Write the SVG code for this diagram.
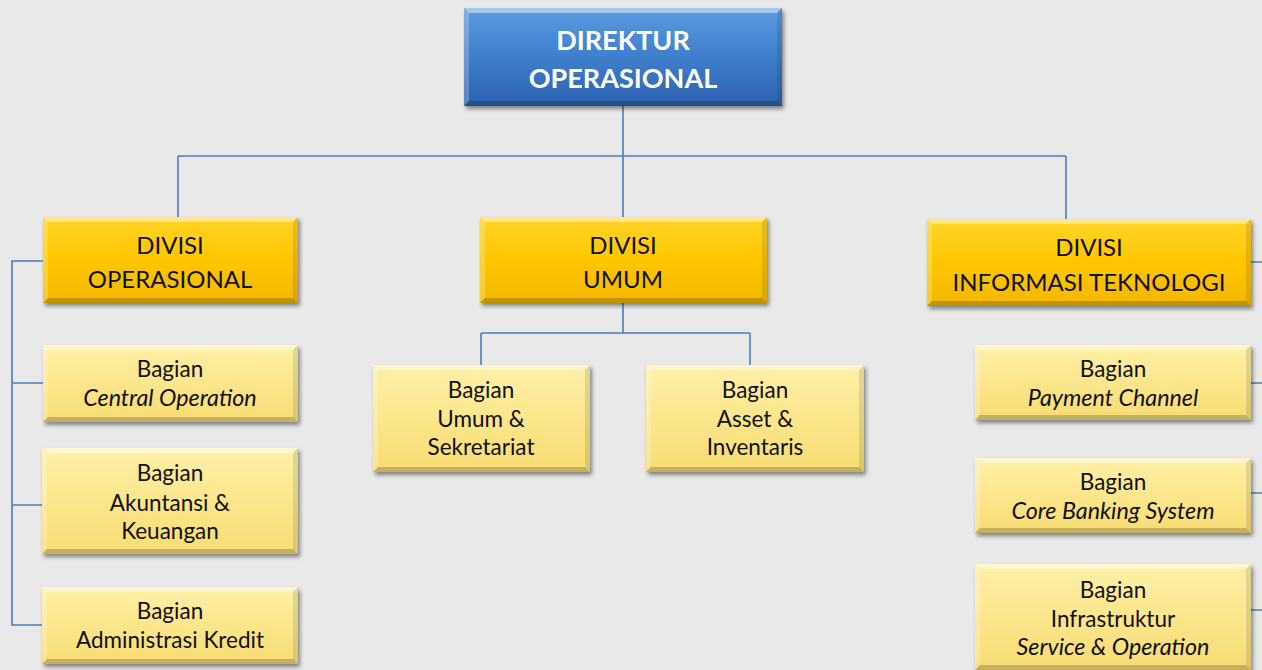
<svg xmlns="http://www.w3.org/2000/svg" width="1262" height="670" viewBox="0 0 1262 670">
<style>
.t{font-family:Lato,"Open Sans","Liberation Sans",sans-serif;text-anchor:middle;fill:#111}
.dir{font-size:27px;font-weight:bold;fill:#fff}
.div{font-size:24px}
.sub{font-size:22.5px}
.i{font-style:italic;font-size:23.3px}
.conn{fill:none;stroke:#4a7ebb;stroke-width:1.6}
.hl{fill:#fff;fill-opacity:.45}
.hl2{fill:#fff;fill-opacity:.22}
.sh{fill:#000;fill-opacity:.10}
.sh2{fill:#000;fill-opacity:.2}
</style>
<defs>
<linearGradient id="gBlue" x1="0" y1="0" x2="0" y2="1">
<stop offset="0" stop-color="#5b9be0"/>
<stop offset="0.5" stop-color="#3f7fcc"/>
<stop offset="1" stop-color="#2b62ae"/>
</linearGradient>
<linearGradient id="gGold" x1="0" y1="0" x2="0" y2="1">
<stop offset="0" stop-color="#ffd42a"/>
<stop offset="0.5" stop-color="#ffc600"/>
<stop offset="1" stop-color="#f2b800"/>
</linearGradient>
<linearGradient id="gLight" x1="0" y1="0" x2="0" y2="1">
<stop offset="0" stop-color="#fdf0a8"/>
<stop offset="0.5" stop-color="#fbe68c"/>
<stop offset="1" stop-color="#f7dc72"/>
</linearGradient>
<filter id="shadow" x="-10%" y="-10%" width="125%" height="130%">
<feGaussianBlur in="SourceAlpha" stdDeviation="2"/>
<feOffset dx="2" dy="3" result="b"/>
<feComponentTransfer><feFuncA type="linear" slope="0.45"/></feComponentTransfer>
<feMerge><feMergeNode/><feMergeNode in="SourceGraphic"/></feMerge>
</filter>
</defs>
<rect x="0" y="0" width="1262" height="670" fill="#e9e9e9"/>

<g id="connectors">
<path class="conn" d="M623 106 V156 M178 156 H1066 M178 156 V217 M623 156 V217 M1066 156 V219"/>
<path class="conn" d="M623 303 V333 M481 333 H750 M481 333 V365 M750 333 V365"/>
<path class="conn" d="M43 261 H12 V625 H42 M12 383 H43 M12 505 H42"/>
<path class="conn" d="M1251 262 H1262 M1251 383 H1262 M1251 493 H1262 M1251 610 H1262"/>
</g>

<g id="direktur" transform="translate(464,8)">
<rect width="318" height="98" fill="url(#gBlue)" filter="url(#shadow)"/>
<path class="hl" d="M0 0 h318 l-5 5 H5 z"/><path class="hl2" d="M0 0 l5 5 V93 l-5 5 z"/><path class="sh" d="M318 0 v98 l-5 -5 V5 z"/><path class="sh2" d="M0 98 h318 l-5 -5 H5 z"/>
<text class="t dir" x="159" y="42">DIREKTUR</text>
<text class="t dir" x="159" y="80">OPERASIONAL</text>
</g>

<g id="divisi-operasional" transform="translate(43,217)">
<rect width="255" height="86" fill="url(#gGold)" filter="url(#shadow)"/>
<path class="hl" d="M0 0 h255 l-5 5 H5 z"/><path class="hl2" d="M0 0 l5 5 V81 l-5 5 z"/><path class="sh" d="M255 0 v86 l-5 -5 V5 z"/><path class="sh2" d="M0 86 h255 l-5 -5 H5 z"/>
<text class="t div" x="127" y="37">DIVISI</text>
<text class="t div" x="127" y="71">OPERASIONAL</text>
</g>

<g id="divisi-umum" transform="translate(480,217)">
<rect width="287" height="86" fill="url(#gGold)" filter="url(#shadow)"/>
<path class="hl" d="M0 0 h287 l-5 5 H5 z"/><path class="hl2" d="M0 0 l5 5 V81 l-5 5 z"/><path class="sh" d="M287 0 v86 l-5 -5 V5 z"/><path class="sh2" d="M0 86 h287 l-5 -5 H5 z"/>
<text class="t div" x="143" y="37">DIVISI</text>
<text class="t div" x="143" y="71">UMUM</text>
</g>

<g id="divisi-it" transform="translate(927,219)">
<rect width="324" height="87" fill="url(#gGold)" filter="url(#shadow)"/>
<path class="hl" d="M0 0 h324 l-5 5 H5 z"/><path class="hl2" d="M0 0 l5 5 V82 l-5 5 z"/><path class="sh" d="M324 0 v87 l-5 -5 V5 z"/><path class="sh2" d="M0 87 h324 l-5 -5 H5 z"/>
<text class="t div" x="162" y="37">DIVISI</text>
<text class="t div" x="162" y="72">INFORMASI TEKNOLOGI</text>
</g>

<g id="central-operation" transform="translate(43,345)">
<rect width="255" height="77" fill="url(#gLight)" filter="url(#shadow)"/>
<path class="hl" d="M0 0 h255 l-5 5 H5 z"/><path class="hl2" d="M0 0 l5 5 V72 l-5 5 z"/><path class="sh" d="M255 0 v77 l-5 -5 V5 z"/><path class="sh2" d="M0 77 h255 l-5 -5 H5 z"/>
<text class="t sub" x="127" y="32">Bagian</text>
<text class="t sub i" x="127" y="61">Central Operation</text>
</g>

<g id="akuntansi-keuangan" transform="translate(42,448)">
<rect width="256" height="106" fill="url(#gLight)" filter="url(#shadow)"/>
<path class="hl" d="M0 0 h256 l-5 5 H5 z"/><path class="hl2" d="M0 0 l5 5 V101 l-5 5 z"/><path class="sh" d="M256 0 v106 l-5 -5 V5 z"/><path class="sh2" d="M0 106 h256 l-5 -5 H5 z"/>
<text class="t sub" x="128" y="33">Bagian</text>
<text class="t sub" x="128" y="63">Akuntansi &amp;</text>
<text class="t sub" x="128" y="91">Keuangan</text>
</g>

<g id="administrasi-kredit" transform="translate(42,587)">
<rect width="256" height="77" fill="url(#gLight)" filter="url(#shadow)"/>
<path class="hl" d="M0 0 h256 l-5 5 H5 z"/><path class="hl2" d="M0 0 l5 5 V72 l-5 5 z"/><path class="sh" d="M256 0 v77 l-5 -5 V5 z"/><path class="sh2" d="M0 77 h256 l-5 -5 H5 z"/>
<text class="t sub" x="128" y="32">Bagian</text>
<text class="t sub" x="128" y="61">Administrasi Kredit</text>
</g>

<g id="umum-sekretariat" transform="translate(373,365)">
<rect width="217" height="107" fill="url(#gLight)" filter="url(#shadow)"/>
<path class="hl" d="M0 0 h217 l-5 5 H5 z"/><path class="hl2" d="M0 0 l5 5 V102 l-5 5 z"/><path class="sh" d="M217 0 v107 l-5 -5 V5 z"/><path class="sh2" d="M0 107 h217 l-5 -5 H5 z"/>
<text class="t sub" x="108" y="33">Bagian</text>
<text class="t sub" x="108" y="62">Umum &amp;</text>
<text class="t sub" x="108" y="90">Sekretariat</text>
</g>

<g id="asset-inventaris" transform="translate(646,365)">
<rect width="218" height="107" fill="url(#gLight)" filter="url(#shadow)"/>
<path class="hl" d="M0 0 h218 l-5 5 H5 z"/><path class="hl2" d="M0 0 l5 5 V102 l-5 5 z"/><path class="sh" d="M218 0 v107 l-5 -5 V5 z"/><path class="sh2" d="M0 107 h218 l-5 -5 H5 z"/>
<text class="t sub" x="109" y="33">Bagian</text>
<text class="t sub" x="109" y="62">Asset &amp;</text>
<text class="t sub" x="109" y="90">Inventaris</text>
</g>

<g id="payment-channel" transform="translate(975,345)">
<rect width="276" height="75" fill="url(#gLight)" filter="url(#shadow)"/>
<path class="hl" d="M0 0 h276 l-5 5 H5 z"/><path class="hl2" d="M0 0 l5 5 V70 l-5 5 z"/><path class="sh" d="M276 0 v75 l-5 -5 V5 z"/><path class="sh2" d="M0 75 h276 l-5 -5 H5 z"/>
<text class="t sub" x="138" y="32">Bagian</text>
<text class="t sub i" x="138" y="61">Payment Channel</text>
</g>

<g id="core-banking" transform="translate(975,458)">
<rect width="276" height="75" fill="url(#gLight)" filter="url(#shadow)"/>
<path class="hl" d="M0 0 h276 l-5 5 H5 z"/><path class="hl2" d="M0 0 l5 5 V70 l-5 5 z"/><path class="sh" d="M276 0 v75 l-5 -5 V5 z"/><path class="sh2" d="M0 75 h276 l-5 -5 H5 z"/>
<text class="t sub" x="138" y="32">Bagian</text>
<text class="t sub i" x="138" y="61">Core Banking System</text>
</g>

<g id="infrastruktur" transform="translate(975,564)">
<rect width="276" height="106" fill="url(#gLight)" filter="url(#shadow)"/>
<path class="hl" d="M0 0 h276 l-5 5 H5 z"/><path class="hl2" d="M0 0 l5 5 V101 l-5 5 z"/><path class="sh" d="M276 0 v106 l-5 -5 V5 z"/><path class="sh2" d="M0 106 h276 l-5 -5 H5 z"/>
<text class="t sub" x="138" y="34">Bagian</text>
<text class="t sub" x="138" y="63">Infrastruktur</text>
<text class="t sub i" x="138" y="91">Service &amp; Operation</text>
</g>
</svg>
